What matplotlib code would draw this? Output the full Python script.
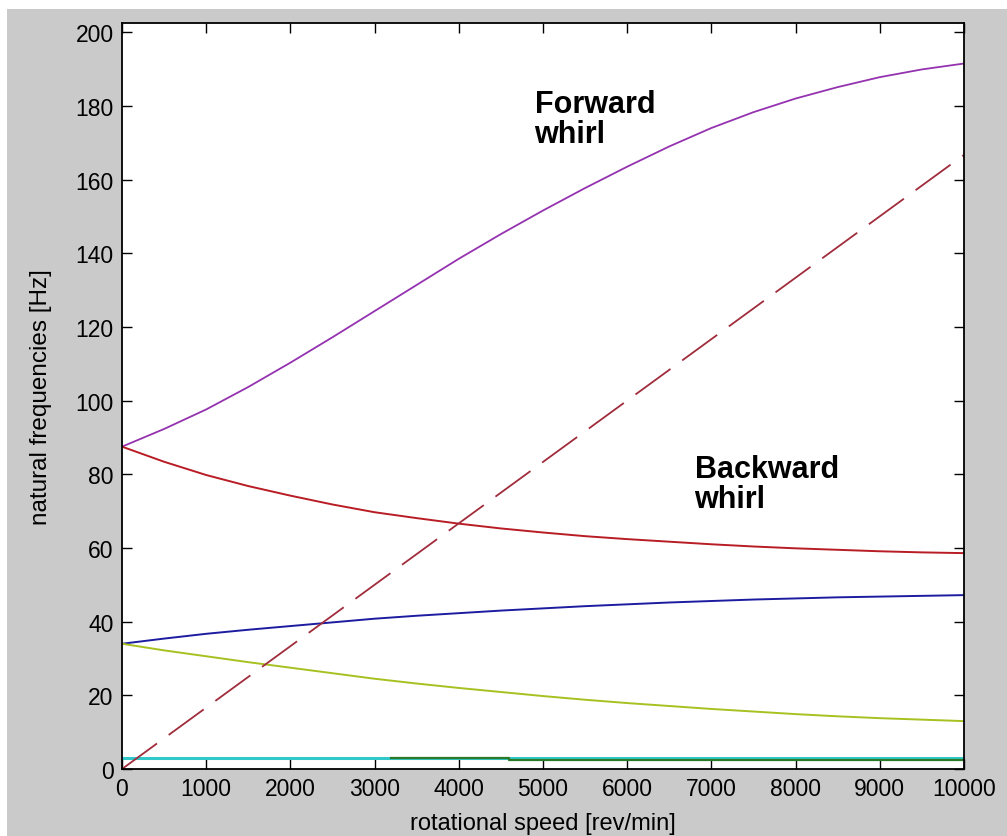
import matplotlib.pyplot as plt
from matplotlib.patches import Rectangle

# rotor speed (rev/min) and natural frequencies (Hz)
speed = [0, 500, 1000, 1500, 2000, 2500, 3000, 3500, 4000, 4500, 5000,
         5500, 6000, 6500, 7000, 7500, 8000, 8500, 9000, 9500, 10000]
forward = [87.5, 92.3, 97.6, 103.7, 110.3, 117.2, 124.3, 131.4, 138.5, 145.2, 151.6,
           157.7, 163.5, 169.0, 174.0, 178.3, 182.0, 185.1, 187.8, 189.9, 191.5]
backward = [87.5, 83.4, 79.8, 76.8, 74.2, 71.8, 69.7, 68.1, 66.6, 65.3, 64.2,
            63.2, 62.4, 61.7, 61.0, 60.4, 59.9, 59.5, 59.1, 58.8, 58.6]
mode2_fw = [34.0, 35.4, 36.7, 37.8, 38.8, 39.8, 40.8, 41.6, 42.3, 43.0, 43.6,
            44.2, 44.7, 45.2, 45.6, 46.0, 46.3, 46.6, 46.8, 47.0, 47.2]
mode2_bw = [34.0, 32.2, 30.6, 29.0, 27.5, 26.0, 24.5, 23.2, 22.0, 20.9, 19.8,
            18.8, 17.9, 17.1, 16.3, 15.6, 14.9, 14.3, 13.8, 13.4, 13.0]
mode1_speed = [0, 10000]
mode1 = [3.0, 3.0]
mode0_speed = [3200, 4600, 4600, 10000]
mode0 = [2.9, 2.9, 2.4, 2.4]
# 1X excitation line
exc_speed = [0, 10000]
exc = [0, 166.7]

fig = plt.figure(figsize=(10.07, 8.37), dpi=100, facecolor='white')
fig.patches.append(Rectangle((7 / 1007, 0), 1, 1 - 10 / 837, transform=fig.transFigure,
                             facecolor='#cacaca', edgecolor='none', zorder=-10))

ax = fig.add_axes([122 / 1007, 67 / 837, 842 / 1007, 746 / 837])
ax.set_facecolor('white')

ax.plot(mode1_speed, mode1, color='#30c8c8', lw=2.2)
ax.plot(mode0_speed, mode0, color='#2a7a2a', lw=1.6)
ax.plot(speed, forward, color='#9432b0', lw=1.3)
ax.plot(speed, backward, color='#b81c24', lw=1.4)
ax.plot(speed, mode2_fw, color='#1c1ca0', lw=1.4)
ax.plot(speed, mode2_bw, color='#a8c020', lw=1.4)
ax.plot(exc_speed, exc, color='#a02c3c', lw=1.3, dashes=(24, 8))

ax.text(4900, 184.5, 'Forward\nwhirl', fontsize=22, fontweight='bold',
        family='Liberation Sans', ha='left', va='top', linespacing=1.0)
ax.text(6800, 85.5, 'Backward\nwhirl', fontsize=22, fontweight='bold',
        family='Liberation Sans', ha='left', va='top', linespacing=1.0)

ax.set_xlim(0, 10000)
ax.set_ylim(0, 202.5)
ax.set_xticks(range(0, 10001, 1000))
ax.set_yticks(range(0, 201, 20))
ax.tick_params(direction='in', length=7, width=1, top=True, right=True,
               labelsize=16.5, pad=6)
for lab in ax.get_xticklabels() + ax.get_yticklabels():
    lab.set_family('Liberation Sans')
for s in ax.spines.values():
    s.set_linewidth(1.3)

ax.set_xlabel('rotational speed [rev/min]', fontsize=17, family='Liberation Sans')
ax.set_ylabel('natural frequencies [Hz]', fontsize=17.5, family='Liberation Sans')
ax.xaxis.set_label_coords(0.5, -0.058)
ax.yaxis.set_label_coords(-0.083, 0.5)

fig.savefig('out.png', dpi=100, facecolor=fig.get_facecolor())
